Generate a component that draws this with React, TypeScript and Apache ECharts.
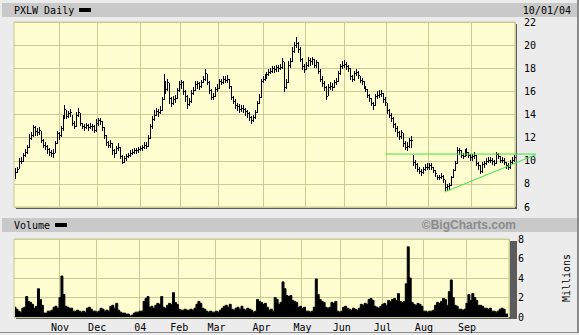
import React, { useEffect, useRef } from 'react';
import * as echarts from 'echarts';

// ---- Calendar (trading days per month, Oct 2003 .. Oct 1 2004) ----
const monthNames = ['Oct', 'Nov', 'Dec', '04', 'Feb', 'Mar', 'Apr', 'May', 'Jun', 'Jul', 'Aug', 'Sep', 'Oct'];
const monthDays = [23, 19, 22, 20, 19, 23, 21, 20, 21, 21, 22, 21, 1];
const monthLabelled = [false, true, true, true, true, true, true, true, true, true, true, true, false];

// ---- Daily closes ----
const closes = [
  9.0, 9.3, 10.0, 10.0, 10.5, 10.8, 11.2, 12.0, 12.2, 12.9, 12.6, 12.5, 12.7, 11.8, 11.4, 11.3, 11.0, 10.8, 10.7, 10.7, 11.5, 12.4, 12.2,
  12.8, 13.8, 14.5, 13.9, 14.1, 14.2, 13.3, 13.0, 14.0, 14.2, 13.3, 13.0, 12.9, 13.1, 12.9, 13.0, 13.0, 12.7, 13.3,
  13.5, 13.4, 12.9, 12.2, 11.6, 11.4, 11.5, 10.9, 10.7, 11.1, 11.2, 10.4, 9.9, 10.2, 10.4, 10.5, 10.7, 10.8, 10.9, 10.9, 11.0, 11.1,
  11.2, 11.4, 11.3, 12.0, 13.0, 13.6, 14.0, 14.3, 14.2, 14.4, 15.3, 16.8, 16.2, 16.8, 15.4, 15.0, 15.3, 15.4, 16.1, 16.6,
  16.8, 16.0, 15.6, 14.9, 15.2, 15.9, 16.1, 16.6, 16.7, 16.5, 16.8, 17.1, 17.6, 16.8, 16.1, 15.5, 15.6, 16.2, 16.3,
  16.9, 16.8, 17.1, 17.0, 17.1, 16.5, 15.5, 15.2, 14.8, 14.7, 14.5, 14.6, 14.5, 14.3, 14.1, 13.8, 13.5, 13.8, 14.2, 15.0, 15.5, 16.9, 17.1,
  17.3, 17.5, 17.7, 17.8, 18.0, 17.9, 18.1, 18.0, 18.1, 18.6, 16.4, 16.8, 18.3, 18.6, 19.5, 20.0, 20.2, 19.7, 18.8, 18.2, 17.9,
  18.3, 18.7, 18.6, 18.8, 18.3, 18.5, 17.8, 17.1, 16.7, 16.4, 15.6, 16.4, 16.5, 16.4, 16.8, 16.9, 17.6, 18.2, 18.3, 18.4,
  18.2, 18.0, 17.3, 17.1, 17.6, 17.7, 17.4, 17.0, 16.9, 16.5, 16.2, 15.7, 15.4, 15.0, 14.8, 15.6, 15.7, 15.8, 15.9, 15.3, 15.1,
  14.4, 14.0, 13.7, 13.2, 12.8, 12.5, 12.1, 12.5, 11.5, 11.2, 11.3, 11.8, 11.8, 9.9, 9.7, 9.3, 9.1, 9.0, 9.3, 9.5, 9.5,
  9.6, 9.5, 9.2, 8.9, 8.6, 8.6, 8.7, 8.4, 7.7, 7.8, 7.9, 8.6, 9.2, 9.8, 10.9, 10.9, 10.5, 10.4, 10.7, 10.8, 10.5, 10.3,
  10.4, 10.5, 9.8, 9.6, 9.1, 9.7, 9.8, 10.0, 10.1, 10.1, 10.0, 9.8, 10.6, 10.4, 10.1, 10.1, 9.9, 9.6, 9.5, 9.9, 10.1,
  10.3,
];

// ---- Daily highs ----
const highs = [
  9.4, 9.5, 10.2, 10.3, 10.7, 11.0, 11.4, 12.3, 12.5, 13.1, 13.0, 12.8, 12.9, 12.6, 11.9, 11.6, 11.4, 11.1, 10.9, 11.0, 11.7, 12.6, 12.5,
  13.0, 14.0, 14.8, 14.4, 14.3, 14.5, 14.0, 13.4, 14.2, 14.6, 14.1, 13.3, 13.2, 13.3, 13.2, 13.3, 13.2, 13.1, 13.6,
  13.7, 13.7, 13.4, 12.9, 12.2, 11.7, 11.8, 11.5, 11.0, 11.3, 11.5, 11.2, 10.5, 10.4, 10.6, 10.7, 10.9, 11.0, 11.1, 11.1, 11.2, 11.3,
  11.4, 11.6, 11.6, 12.2, 13.2, 13.9, 14.4, 14.6, 14.5, 14.7, 15.5, 17.5, 16.9, 17.1, 16.7, 15.5, 15.6, 15.7, 16.3, 16.9,
  17.0, 16.9, 16.1, 15.7, 15.4, 16.1, 16.4, 16.9, 16.9, 16.8, 17.0, 17.3, 17.9, 17.5, 16.9, 16.2, 15.9, 16.4, 16.6,
  17.1, 17.1, 17.3, 17.3, 17.4, 17.1, 16.5, 15.6, 15.3, 15.0, 14.9, 14.8, 14.8, 14.6, 14.4, 14.2, 13.9, 14.0, 14.4, 15.2, 15.8, 17.1, 17.3,
  17.5, 17.7, 17.9, 18.0, 18.2, 18.2, 18.3, 18.3, 18.4, 18.9, 18.5, 17.1, 18.6, 18.9, 19.8, 20.3, 20.7, 20.3, 19.8, 18.9, 18.4,
  18.5, 19.0, 18.9, 19.0, 18.8, 18.7, 18.5, 17.9, 17.3, 16.9, 16.5, 16.6, 16.8, 16.7, 17.0, 17.2, 17.8, 18.4, 18.6, 18.7,
  18.5, 18.3, 18.0, 17.4, 17.8, 17.9, 17.8, 17.3, 17.2, 16.9, 16.5, 16.2, 15.8, 15.4, 15.1, 15.8, 16.0, 16.1, 16.1, 15.9, 15.5,
  15.0, 14.5, 14.1, 13.8, 13.3, 13.0, 12.6, 12.7, 12.4, 11.7, 11.6, 12.0, 12.1, 10.5, 10.1, 9.8, 9.5, 9.3, 9.5, 9.7, 9.8,
  9.8, 9.8, 9.5, 9.2, 8.8, 8.8, 8.9, 8.8, 8.3, 8.0, 8.1, 8.7, 9.3, 10.0, 11.2, 11.1, 10.9, 10.7, 11.0, 11.1, 10.8, 10.6,
  10.6, 10.8, 10.5, 9.9, 9.6, 9.9, 10.0, 10.2, 10.3, 10.3, 10.2, 10.1, 10.8, 10.7, 10.4, 10.3, 10.2, 9.9, 9.8, 10.1, 10.3,
  10.5,
];

// ---- Daily lows ----
const lows = [
  8.5, 9.0, 9.4, 9.8, 10.0, 10.4, 10.7, 11.2, 11.9, 12.1, 12.2, 12.2, 12.3, 11.6, 11.2, 11.0, 10.7, 10.5, 10.4, 10.3, 10.8, 11.5, 11.9,
  12.1, 12.7, 13.7, 13.7, 13.8, 13.9, 13.1, 12.8, 13.0, 13.9, 13.1, 12.8, 12.7, 12.8, 12.7, 12.8, 12.7, 12.5, 12.6,
  13.1, 13.2, 12.7, 12.0, 11.4, 11.2, 11.2, 10.6, 10.3, 10.7, 10.9, 10.2, 9.8, 9.9, 10.1, 10.3, 10.4, 10.6, 10.7, 10.7, 10.8, 10.9,
  10.9, 11.1, 11.1, 11.3, 12.0, 12.8, 13.5, 14.0, 13.9, 14.1, 14.4, 15.3, 15.9, 16.1, 15.0, 14.7, 14.9, 15.1, 15.4, 16.0,
  16.3, 15.8, 15.2, 14.6, 14.8, 15.1, 15.8, 16.1, 16.3, 16.2, 16.4, 16.8, 17.0, 16.6, 15.9, 15.3, 15.3, 15.6, 16.0,
  16.3, 16.6, 16.7, 16.8, 16.8, 16.3, 15.3, 15.0, 14.6, 14.4, 14.2, 14.3, 14.2, 14.0, 13.8, 13.5, 13.3, 13.4, 13.7, 14.2, 15.0, 15.5, 16.8,
  17.0, 17.2, 17.4, 17.6, 17.7, 17.7, 17.8, 17.8, 17.9, 18.0, 16.0, 16.3, 16.8, 18.1, 18.6, 19.4, 19.8, 19.4, 18.6, 17.9, 17.7,
  17.9, 18.2, 18.3, 18.4, 18.1, 18.1, 17.6, 16.9, 16.5, 16.1, 15.3, 15.7, 16.2, 16.1, 16.4, 16.6, 16.9, 17.5, 18.0, 18.1,
  17.9, 17.8, 17.1, 16.9, 17.0, 17.4, 17.2, 16.8, 16.6, 16.3, 16.0, 15.5, 15.2, 14.8, 14.5, 14.8, 15.4, 15.5, 15.6, 15.1, 14.8,
  14.1, 13.8, 13.4, 12.9, 12.6, 12.1, 11.9, 12.0, 11.3, 11.0, 10.9, 11.2, 11.2, 9.6, 9.4, 9.1, 8.9, 8.8, 8.9, 9.2, 9.3,
  9.3, 9.3, 9.0, 8.7, 8.4, 8.4, 8.5, 8.2, 7.5, 7.5, 7.6, 7.9, 8.6, 9.2, 9.8, 10.6, 10.3, 10.2, 10.4, 10.5, 10.3, 10.1,
  10.1, 10.2, 9.6, 9.3, 8.9, 9.0, 9.5, 9.7, 9.9, 9.9, 9.7, 9.6, 9.8, 10.2, 9.9, 9.9, 9.7, 9.4, 9.3, 9.4, 9.8,
  10.0,
];

// ---- Daily volume (millions) ----
const volumes = [
  1.0, 0.8, 0.6, 0.5, 0.9, 1.0, 2.1, 1.6, 1.5, 1.3, 0.9, 1.1, 2.9, 1.8, 1.2, 0.4, 0.4, 0.6, 0.6, 0.7, 1.0, 1.1, 0.9,
  2.0, 4.2, 2.3, 1.1, 1.0, 0.9, 0.9, 0.6, 0.6, 0.7, 0.6, 0.5, 0.6, 0.5, 0.9, 1.0, 0.8, 0.6, 0.6,
  0.5, 0.6, 0.9, 0.8, 0.6, 0.7, 0.6, 1.1, 1.2, 0.9, 1.4, 0.7, 0.5, 0.4, 0.4, 0.3, 0.3, 0.1, 0.2, 0.4, 0.5, 0.5,
  0.6, 0.6, 1.6, 1.9, 2.1, 1.0, 1.1, 0.9, 1.2, 1.4, 1.3, 2.1, 1.0, 0.9, 1.2, 1.4, 1.3, 2.5, 1.5, 1.3,
  0.8, 0.7, 0.7, 0.8, 0.7, 0.7, 0.8, 0.7, 0.9, 1.3, 1.6, 1.4, 0.9, 0.8, 0.6, 0.5, 0.6, 0.5, 0.5,
  0.6, 0.5, 0.7, 0.9, 1.1, 1.2, 1.0, 1.3, 0.8, 0.7, 0.9, 1.0, 0.8, 1.1, 0.8, 0.7, 0.9, 0.8, 0.7, 0.5, 0.6, 1.8, 1.6,
  1.5, 1.3, 1.4, 1.0, 0.7, 0.8, 0.6, 2.0, 1.8, 1.3, 1.5, 3.6, 2.9, 2.2, 2.1, 2.2, 1.7, 1.6, 1.5, 1.0, 1.1,
  0.9, 1.0, 0.6, 0.6, 0.5, 0.6, 1.0, 3.9, 2.3, 1.8, 1.6, 1.5, 1.0, 0.9, 1.0, 1.5, 1.4, 1.6, 0.6, 0.5,
  0.6, 1.0, 1.1, 0.9, 0.8, 0.7, 0.9, 0.8, 0.7, 0.9, 1.3, 1.2, 1.4, 1.3, 1.8, 1.9, 1.7, 1.1, 1.0, 0.9, 1.1,
  1.3, 1.4, 1.2, 1.7, 1.6, 1.8, 1.9, 1.7, 2.4, 1.6, 1.5, 1.6, 3.4, 7.2, 4.0, 1.5, 1.3, 1.2, 1.4, 1.3, 1.1,
  0.6, 0.6, 0.5, 0.6, 0.6, 0.7, 1.2, 1.5, 1.4, 1.6, 1.9, 1.8, 1.2, 2.6, 3.8, 2.0, 1.2, 1.1, 0.8, 0.8, 0.7, 0.8,
  1.4, 2.3, 1.7, 2.4, 2.0, 1.7, 1.2, 1.2, 1.1, 0.9, 0.9, 0.8, 0.9, 0.6, 0.6, 0.5, 0.6, 0.8, 0.9, 0.8, 0.3,
  0.3,
];

// ---- Trend lines: [dayIndex, price] endpoints ----
const resistanceLine = [[187.4, 10.58], [263.1, 10.58]];
const supportLine = [[216.8, 7.3], [263.1, 10.52]];

const yPriceTicks = { min: 6, max: 22, step: 2 };
const yVolumeTicks = { min: 0, max: 8, step: 2 };

// ---- Build categories ----
const categories: string[] = [];
const monthStartIdx = new Set<number>();
const labelAt = new Map<number, string>();
monthNames.forEach((m, k) => {
  const start = categories.length;
  if (monthLabelled[k]) {
    monthStartIdx.add(start);
    labelAt.set(start, m);
  }
  for (let j = 0; j < monthDays[k]; j++) categories.push(`${m}#${k}-${j + 1}`);
});
const N = categories.length;

const MONO = '"DejaVu Sans Mono", monospace';
const GRID = '#CBCB94';
const PLOT_BG = '#FDFDD0';

export default function App() {
  const ref = useRef<HTMLDivElement>(null);
  useEffect(() => {
    if (!ref.current) return;
    const chart = echarts.init(ref.current, undefined, { renderer: 'svg' });
    const priceData = closes.slice(0, N).map((c, i) => [i, highs[i], lows[i], c]);
    const volData = volumes.slice(0, N);
    const trendData = [
      [resistanceLine[0][0], resistanceLine[0][1], resistanceLine[1][0], resistanceLine[1][1]],
      [supportLine[0][0], supportLine[0][1], supportLine[1][0], supportLine[1][1]],
    ];
    const option: any = {
      animation: false,
      backgroundColor: '#ECECEC',
      graphic: [
        { type: 'rect', z: -10, silent: true, shape: { x: 2, y: 3, width: 575, height: 14 }, style: { fill: '#C9C9C9' } },
        { type: 'rect', z: -10, silent: true, shape: { x: 2, y: 218, width: 575, height: 14 }, style: { fill: '#C9C9C9' } },
        { type: 'rect', z: -10, silent: true, shape: { x: 577, y: 0, width: 2, height: 333 }, style: { fill: '#8A8A8A' } },
        { type: 'rect', z: -10, silent: true, shape: { x: 0, y: 332, width: 579, height: 1 }, style: { fill: '#8A8A8A' } },
        { type: 'rect', z: -10, silent: true, shape: { x: 16, y: 24, width: 501, height: 185 }, style: { fill: '#5C5C5C' } },
        { type: 'rect', z: -10, silent: true, shape: { x: 16, y: 241, width: 501, height: 78 }, style: { fill: '#5C5C5C' } },
        { type: 'text', z: 10, silent: true, x: 14, y: 10, style: { text: 'PXLW Daily', font: `10px ${MONO}`, fill: '#000', align: 'left', verticalAlign: 'middle' } },
        { type: 'rect', z: 10, silent: true, shape: { x: 79, y: 8, width: 12, height: 4 }, style: { fill: '#000' } },
        { type: 'text', z: 10, silent: true, x: 571, y: 10, style: { text: '10/01/04', font: `10px ${MONO}`, fill: '#000', align: 'right', verticalAlign: 'middle' } },
        { type: 'text', z: 10, silent: true, x: 14, y: 225, style: { text: 'Volume', font: `10px ${MONO}`, fill: '#000', align: 'left', verticalAlign: 'middle' } },
        { type: 'rect', z: 10, silent: true, shape: { x: 55, y: 223, width: 12, height: 4 }, style: { fill: '#000' } },
        { type: 'text', z: 10, silent: true, x: 516, y: 225, style: { text: '©BigCharts.com', font: 'bold 12px "Liberation Sans", Arial, sans-serif', fill: '#8C8C8C', align: 'right', verticalAlign: 'middle' } },
      ],
      grid: [
        { left: 14, top: 22, width: 501, height: 185, show: true, backgroundColor: PLOT_BG, borderColor: GRID, borderWidth: 1 },
        { left: 14, top: 239, width: 501, height: 78, show: true, backgroundColor: PLOT_BG, borderColor: GRID, borderWidth: 1 },
      ],
      xAxis: [
        {
          type: 'category', gridIndex: 0, data: categories, boundaryGap: true, min: 0, max: N - 1,
          axisLine: { show: false }, axisTick: { show: false }, axisLabel: { show: false },
          splitLine: { show: true, interval: (i: number) => monthStartIdx.has(i), lineStyle: { color: GRID, width: 1 } },
        },
        {
          type: 'category', gridIndex: 1, data: categories, boundaryGap: true, min: 0, max: N - 1,
          axisLine: { show: false }, axisTick: { show: false },
          axisLabel: {
            show: true, interval: (i: number) => monthStartIdx.has(i),
            formatter: (_v: string, i: number) => labelAt.get(i) ?? '',
            color: '#000', fontFamily: MONO, fontSize: 10, margin: 5,
          },
          splitLine: { show: true, interval: (i: number) => monthStartIdx.has(i), lineStyle: { color: GRID, width: 1 } },
        },
      ],
      yAxis: [
        {
          type: 'value', gridIndex: 0, position: 'right', min: yPriceTicks.min, max: yPriceTicks.max, interval: yPriceTicks.step,
          axisLine: { show: false }, axisTick: { show: false },
          axisLabel: { color: '#000', fontFamily: MONO, fontSize: 10, margin: 9 },
          splitLine: { show: true, lineStyle: { color: GRID, width: 1 } },
        },
        {
          type: 'value', gridIndex: 1, position: 'right', min: yVolumeTicks.min, max: yVolumeTicks.max, interval: yVolumeTicks.step,
          axisLine: { show: false }, axisTick: { show: false },
          axisLabel: { color: '#000', fontFamily: MONO, fontSize: 10, margin: 9 },
          splitLine: { show: true, lineStyle: { color: GRID, width: 1 } },
          name: 'Millions', nameLocation: 'middle', nameRotate: 90, nameGap: 52,
          nameTextStyle: { color: '#000', fontFamily: MONO, fontSize: 10 },
        },
      ],
      series: [
        {
          type: 'custom', xAxisIndex: 0, yAxisIndex: 0, z: 3, silent: true,
          data: priceData,
          encode: { x: 0, y: [1, 2, 3] },
          renderItem: (_p: any, api: any) => {
            const i = api.value(0);
            const h = api.coord([i, api.value(1)]);
            const l = api.coord([i, api.value(2)]);
            const c = api.coord([i, api.value(3)]);
            const x = Math.round(h[0]) + 0.5;
            const cy = Math.round(c[1]) + 0.5;
            return {
              type: 'group',
              children: [
                { type: 'line', shape: { x1: x, y1: Math.round(h[1]), x2: x, y2: Math.round(l[1]) + 1 }, style: { stroke: '#000', lineWidth: 1 } },
                { type: 'line', shape: { x1: x, y1: cy, x2: x + 1.5, y2: cy }, style: { stroke: '#000', lineWidth: 1 } },
              ],
            };
          },
        },
        {
          type: 'custom', xAxisIndex: 0, yAxisIndex: 0, z: 4, silent: true, clip: false,
          data: trendData,
          encode: { x: [0, 2], y: [1, 3] },
          renderItem: (_p: any, api: any) => {
            const a = api.coord([api.value(0), api.value(1)]);
            const b = api.coord([api.value(2), api.value(3)]);
            return { type: 'line', shape: { x1: a[0], y1: a[1], x2: b[0], y2: b[1] }, style: { stroke: '#3CE63C', lineWidth: 1 } };
          },
        },
        {
          type: 'line', xAxisIndex: 1, yAxisIndex: 1, z: 3, silent: true,
          data: volData, step: 'middle', symbol: 'none',
          lineStyle: { color: '#000', width: 1 },
          areaStyle: { color: '#000', opacity: 1 },
        },
      ],
    };
    chart.setOption(option);
    return () => chart.dispose();
  }, []);
  return (
    <div
      ref={ref}
      style={{ position: 'fixed', left: 0, top: 0, width: 579, height: 335 }}
    />
  );
}
